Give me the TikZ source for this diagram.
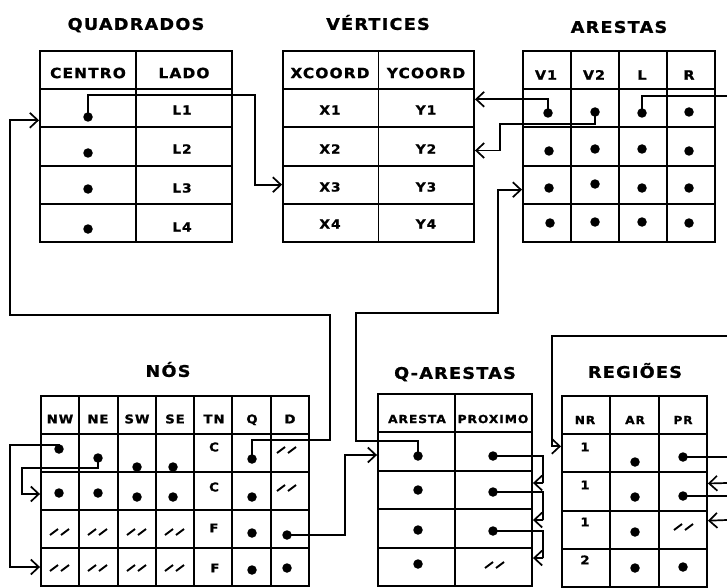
\documentclass[tikz,border=0pt]{standalone}
\usepackage{fontspec}
\newfontfamily\plotfont[FakeStretch=1.1,LetterSpace=8,FakeBold=1.2]{DejaVu Sans Bold}
\usetikzlibrary{arrows.meta,calc}
\newcommand{\mkgrid}[7]{%
  \foreach \c in {1,...,#4}{\foreach \r in {1,...,#6}{%
    \node[cellbox, minimum width=#5pt, minimum height=#7pt] (#1-\r-\c) at ({#2+(\c-0.5)*#5},{#3+(\r-0.5)*#7}) {};
  }}}
\tikzset{
  cellbox/.style={draw, rectangle, line width=1.9pt, inner sep=0pt},
  txt/.style={font=\plotfont\fontsize{#1}{#1}\selectfont, inner sep=0pt, anchor=base, yshift=-0.3645*#1pt},
  dot/.style={circle, fill=black, inner sep=0pt, minimum size=9.5pt},
  wire/.style={line width=1.7pt},
  arr/.style={wire, -{Straight Barb[length=8pt,width=15pt]}},
  nulo/.pic={\draw[line width=1.9pt] (-10,3) -- (-2,-3) (1,3) -- (9,-3);}
}
\begin{document}
\begin{tikzpicture}[x=1pt,y=-1pt]
\useasboundingbox (0,0) rectangle (727,588);
% grids
\mkgrid{q}{40}{51}{2}{96}{5}{38.2}
\mkgrid{v}{283}{51}{2}{95.5}{5}{38.2}
\mkgrid{a}{523}{51}{4}{48}{5}{38.2}
\mkgrid{n}{41}{396}{7}{38.2857}{5}{38}
\mkgrid{e}{378}{394}{2}{77}{5}{38.4}
\mkgrid{r}{562}{396}{3}{48.33}{5}{38.2}
% titles
\node[txt=16] (tq) at (136,24) {QUADRADOS};
\node[txt=16] (tv) at (378,24) {VÉRTICES};
\node[txt=16] (ta) at (619,27) {ARESTAS};
\node[txt=16] (tn) at (168,371) {NÓS};
\node[txt=16] (te) at (455,373) {Q-ARESTAS};
\node[txt=16] (tr) at (635,372) {REGIÕES};
% headers
\node[txt=14] (hq1) at (88,73) {CENTRO};
\node[txt=14] (hq2) at (184,73) {LADO};
\node[txt=14] (hv1) at (330,73) {XCOORD};
\node[txt=14] (hv2) at (426,73) {YCOORD};
\node[txt=13] (ha1) at (546,75) {V1};
\node[txt=13] (ha2) at (594,75) {V2};
\node[txt=13] (ha3) at (642,75) {L};
\node[txt=13] (ha4) at (689,75) {R};
\node[txt=12] (hn1) at (60,419) {NW};
\node[txt=12] (hn2) at (98,419) {NE};
\node[txt=12] (hn3) at (137,419) {SW};
\node[txt=12] (hn4) at (175,419) {SE};
\node[txt=12] (hn5) at (214,419) {TN};
\node[txt=12] (hn6) at (252,419) {Q};
\node[txt=12] (hn7) at (290,419) {D};
\node[txt=11.2] (he1) at (417,419) {ARESTA};
\node[txt=11.2] (he2) at (493,419) {PROXIMO};
\node[txt=11] (hr1) at (585,420) {NR};
\node[txt=11] (hr2) at (635,420) {AR};
\node[txt=11] (hr3) at (683,420) {PR};
% cell texts
\node[txt=12.5] (l1) at (182,110) {L1};
\node[txt=12.5] (l2) at (182,149) {L2};
\node[txt=12.5] (l3) at (182,188) {L3};
\node[txt=12.5] (l4) at (182,227) {L4};
\node[txt=12.5] (x1) at (330,110) {X1};
\node[txt=12.5] (x2) at (330,149) {X2};
\node[txt=12.5] (x3) at (330,187) {X3};
\node[txt=12.5] (x4) at (330,224) {X4};
\node[txt=12.5] (y1) at (426,110) {Y1};
\node[txt=12.5] (y2) at (426,149) {Y2};
\node[txt=12.5] (y3) at (426,187) {Y3};
\node[txt=12.5] (y4) at (426,224) {Y4};
\node[txt=12] (tn1) at (214,447) {C};
\node[txt=12] (tn2) at (214,487) {C};
\node[txt=12] (tn3) at (214,528) {F};
\node[txt=12] (tn4) at (215,568) {F};
\node[txt=12] (nr1) at (585,447) {1};
\node[txt=12] (nr2) at (585,485) {1};
\node[txt=12] (nr3) at (585,522) {1};
\node[txt=12] (nr4) at (585,560) {2};
% nulls
\foreach \p in {(287,450),(287,488),(60,532),(98,532),(137,532),(175,532),(60,568),(98,568),(137,568),(175,568),(495,565),(684,527)}
  \pic at \p {nulo};
% dots QUADRADOS
\node[dot] (qd1) at (88,117) {};
\node[dot] (qd2) at (88,153) {};
\node[dot] (qd3) at (88,189) {};
\node[dot] (qd4) at (88,229) {};
% dots ARESTAS
\node[dot] (ad11) at (548,113) {};
\node[dot] (ad12) at (595,112) {};
\node[dot] (ad13) at (642,113) {};
\node[dot] (ad14) at (689,112) {};
\node[dot] (ad21) at (549,151) {};
\node[dot] (ad22) at (595,149) {};
\node[dot] (ad23) at (642,149) {};
\node[dot] (ad24) at (689,151) {};
\node[dot] (ad31) at (549,188) {};
\node[dot] (ad32) at (595,184) {};
\node[dot] (ad33) at (642,188) {};
\node[dot] (ad34) at (689,188) {};
\node[dot] (ad41) at (550,223) {};
\node[dot] (ad42) at (595,222) {};
\node[dot] (ad43) at (642,222) {};
\node[dot] (ad44) at (689,223) {};
% dots NOS
\node[dot] (nd11) at (59,449) {};
\node[dot] (nd12) at (98,458) {};
\node[dot] (nd13) at (137,467) {};
\node[dot] (nd14) at (173,467) {};
\node[dot] (nd16) at (252,459) {};
\node[dot] (nd21) at (59,493) {};
\node[dot] (nd22) at (98,493) {};
\node[dot] (nd23) at (137,497) {};
\node[dot] (nd24) at (173,497) {};
\node[dot] (nd26) at (252,497) {};
\node[dot] (nd36) at (252,533) {};
\node[dot] (nd37) at (287,535) {};
\node[dot] (nd46) at (252,570) {};
\node[dot] (nd47) at (287,568) {};
% dots Q-ARESTAS
\node[dot] (ea1) at (418,456) {};
\node[dot] (ea2) at (418,490) {};
\node[dot] (ea3) at (418,530) {};
\node[dot] (ea4) at (418,564) {};
\node[dot] (ep1) at (493,456) {};
\node[dot] (ep2) at (493,492) {};
\node[dot] (ep3) at (493,531) {};
% dots REGIOES
\node[dot] (ra1) at (635,462) {};
\node[dot] (ra2) at (635,497) {};
\node[dot] (ra3) at (635,532) {};
\node[dot] (ra4) at (635,568) {};
\node[dot] (rp1) at (683,457) {};
\node[dot] (rp2) at (683,496) {};
\node[dot] (rp4) at (683,567) {};
% free ends
\coordinate (outA) at (727,96);
\coordinate (inR) at (727,336);
\coordinate (outR1) at (727,457);
\coordinate (inR2) at (727,483);
\coordinate (outR2) at (727,496);
\coordinate (inR3) at (727,520);
% connectors
\draw[arr] (qd1.center) |- (255,95) |- (v-4-1.west);
\draw[arr] (ad11.center) |- ($(v-2-2.east)+(0,-9)$);
\draw[arr] (ad12.center) |- (500,124) |- ($(v-3-2.east)+(0,4)$);
\draw[wire] (ad13.center) |- (outA);
\draw[arr] (ea1.center) |- (356,441) |- (498,313) |- ($(a-4-1.west)+(0,5)$);
\draw[arr] (nd16.center) |- (330,440) |- (10,315) |- ($(q-2-1.west)+(0,12)$);
\draw[arr] (nd11.center) |- (10,445) |- (n-5-1.west);
\draw[arr] (nd12.center) |- (22,468) |- ($(n-3-1.west)+(0,3)$);
\draw[arr] (nd37.center) -| (345,455) |- ($(e-2-1.west)+(0,3.4)$);
\draw[arr] (ep1.center) -| (543,483) |- ($(e-3-2.east)+(0,-7)$);
\draw[arr] (ep2.center) -| (543,520) |- ($(e-4-2.east)+(0,-8.4)$);
\draw[arr] (ep3.center) -| (543,558) |- ($(e-5-2.east)+(0,-8.8)$);
\draw[arr] (inR) -| (552,446) |- ($(r-2-1.west)+(0,-7)$);
\draw[wire] (rp1.center) -- (outR1);
\draw[arr] (inR2) -- ($(r-3-3.east)+(0,-8)$);
\draw[wire] (rp2.center) -- (outR2);
\draw[arr] (inR3) -- ($(r-4-3.east)+(0,-9)$);
\end{tikzpicture}
\end{document}
